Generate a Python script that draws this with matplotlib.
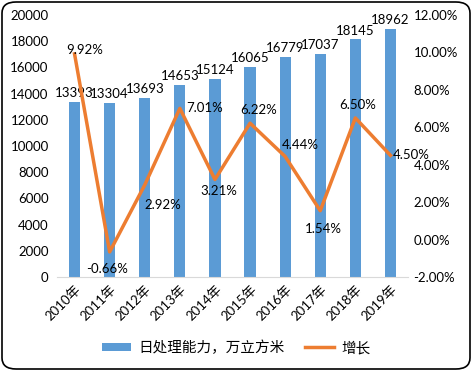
import matplotlib.pyplot as plt
from matplotlib.patches import FancyBboxPatch
from matplotlib.ticker import FuncFormatter

plt.rcParams['font.family'] = ['Lato', 'Noto Sans CJK SC']

years = ['2010年', '2011年', '2012年', '2013年', '2014年', '2015年', '2016年', '2017年', '2018年', '2019年']
capacity = [13393, 13304, 13693, 14653, 15124, 16065, 16779, 17037, 18145, 18962]
growth = [9.92, -0.66, 2.92, 7.01, 3.21, 6.22, 4.44, 1.54, 6.50, 4.50]

bar_c = '#5B9BD5'
line_c = '#ED7D31'
fs = 9.5

fig = plt.figure(figsize=(4.72, 3.71), dpi=100)
ax = fig.add_axes([57/472, 1-277/371, (408-57)/472, (277-15)/371])
ax2 = ax.twinx()

x = list(range(len(years)))
ax.bar(x, capacity, width=0.32, color=bar_c, label='日处理能力，万立方米', zorder=2)
for xi, v in zip(x, capacity):
    ax.annotate(str(v), (xi, v), xytext=(0, 2), textcoords='offset points',
                ha='center', va='bottom', fontsize=fs)

ax2.plot(x, growth, color=line_c, lw=2.5, label='增长', zorder=3)
# label offsets (points) for the growth labels
offs = [(7, 3), (-2, -8), (13, -10), (18, 0), (3, -4), (6, 5), (11, 4), (2, -9), (2, 5), (15, 0)]
for xi, v, o in zip(x, growth, offs):
    va = 'center'
    if o[1] > 3:
        va = 'bottom'
    elif o[1] < -3:
        va = 'top'
    ax2.annotate(f'{v:.2f}%', (xi, v), xytext=o, textcoords='offset points',
                 ha='center', va=va, fontsize=fs)

ax.set_xlim(-0.5, 9.5)
ax.set_ylim(0, 20000)
ax.set_yticks(range(0, 20001, 2000))
ax2.set_ylim(-2, 12)
ax2.set_yticks(range(-2, 13, 2))
ax2.yaxis.set_major_formatter(FuncFormatter(lambda v, p: f'{v:.2f}%'))

ax.set_xticks(x)
ax.set_xticklabels(years, rotation=45, ha='right', rotation_mode='anchor', fontsize=fs)
ax.tick_params(axis='x', length=0, pad=4)
ax.tick_params(axis='y', length=0, labelsize=fs, pad=6)
ax2.tick_params(axis='y', length=0, labelsize=fs, pad=4)

for a in (ax, ax2):
    for s in a.spines.values():
        s.set_visible(False)
ax.spines['bottom'].set_visible(True)
ax.spines['bottom'].set_color('#D9D9D9')

h1, l1 = ax.get_legend_handles_labels()
h2, l2 = ax2.get_legend_handles_labels()
fig.legend(h1 + h2, l1 + l2, loc='center', bbox_to_anchor=(0.5, 1-348/371), ncol=2,
           frameon=False, fontsize=10.5, handlelength=2.0, handleheight=0.55,
           handletextpad=0.5, columnspacing=1.4)

fig.patches.append(FancyBboxPatch((2/472, 2/371), 468/472, 367/371,
                                  boxstyle='round,pad=0,rounding_size=0.03',
                                  transform=fig.transFigure, fill=False,
                                  edgecolor='black', lw=1.2))

fig.savefig('out.png', dpi=100)
